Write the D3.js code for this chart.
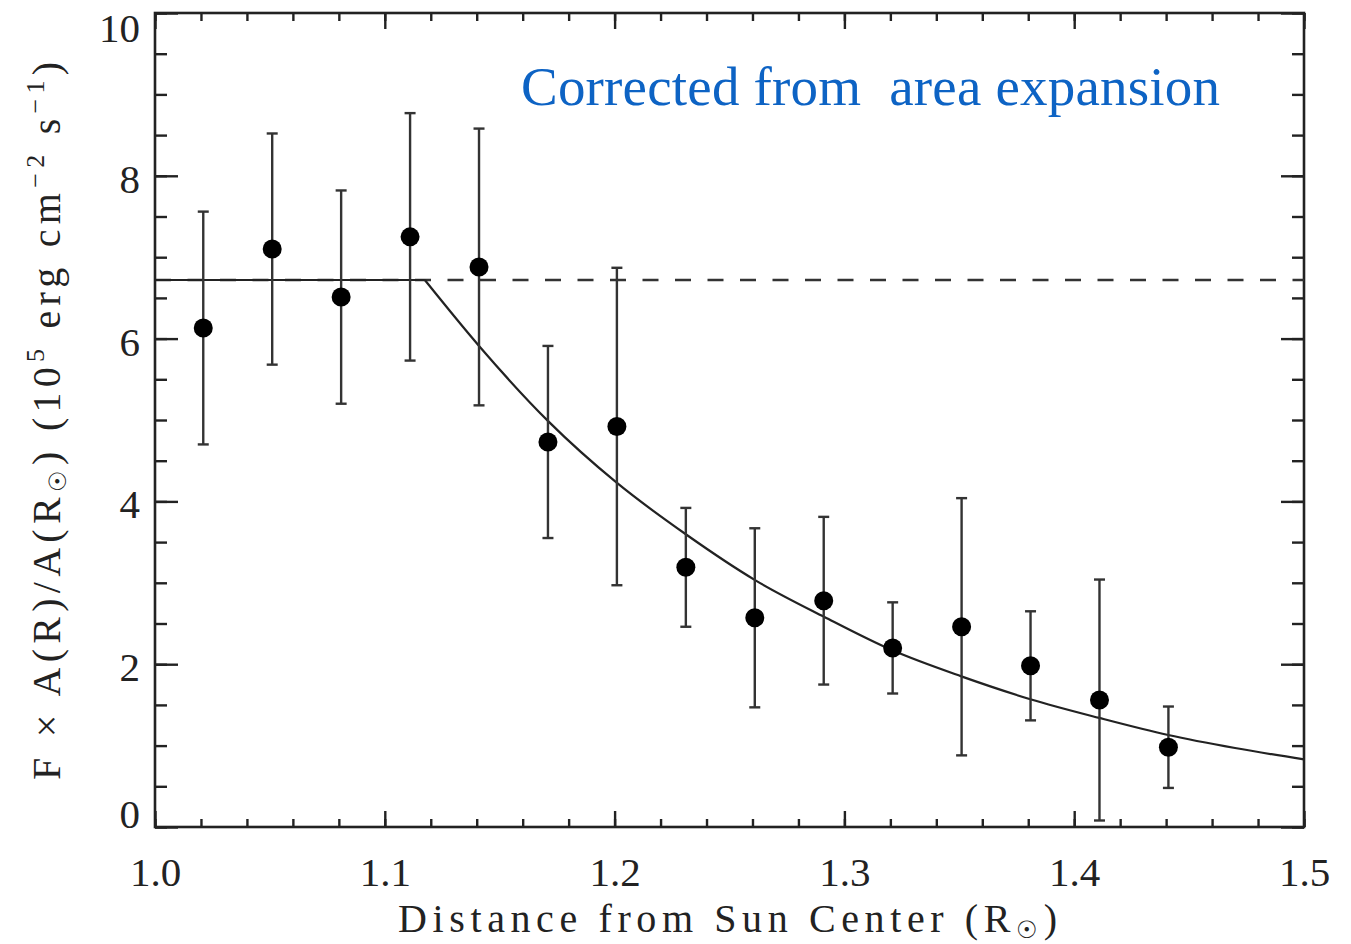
<!DOCTYPE html>
<html>
<head>
<meta charset="utf-8">
<script src="https://cdn.jsdelivr.net/npm/d3@7"></script>
<style>
  body { margin: 0; background: #fff; }
  svg { display: block; background: #fff; }
  text { font-family: "Liberation Serif", "DejaVu Serif", serif; fill: #222; }
</style>
</head>
<body>
<svg id="chart" width="1351" height="944"></svg>
<script>
// measured points: distance (R_sun), F x A(R)/A(R_sun), symmetric error
const radius = [1.021, 1.051, 1.081, 1.111, 1.141, 1.171, 1.201, 1.231, 1.261, 1.291, 1.321, 1.351, 1.381, 1.411, 1.441];
const flux = [6.13, 7.10, 6.51, 7.25, 6.88, 4.73, 4.92, 3.19, 2.57, 2.78, 2.20, 2.46, 1.98, 1.56, 0.98];
const fluxErr = [1.43, 1.42, 1.31, 1.52, 1.70, 1.18, 1.95, 0.73, 1.10, 1.03, 0.56, 1.58, 0.67, 1.48, 0.50];

// model: flat plateau, then decay
const plateau = 6.72;
const plateauEnd = 1.1174;
const fitR = [1.1174, 1.1413, 1.1713, 1.2009, 1.2313, 1.2613, 1.2913, 1.3209, 1.3509, 1.3809, 1.4109, 1.4409, 1.47, 1.5];
const fitF = [6.72, 5.90, 4.98, 4.23, 3.59, 3.03, 2.58, 2.17, 1.85, 1.57, 1.34, 1.13, 0.97, 0.83];

const xTicks = [1.0, 1.1, 1.2, 1.3, 1.4, 1.5];
const yTicks = [0, 2, 4, 6, 8, 10];

const svg = d3.select("#chart");
const margin = { top: 13, right: 47, bottom: 117, left: 155 };
const width = 1351 - margin.left - margin.right,
  height = 944 - margin.top - margin.bottom;
const g = svg.append("g").attr("transform", `translate(${margin.left},${margin.top})`);

const x = d3.scaleLinear().domain([1.0, 1.5]).range([0, width]);
const y = d3.scaleLinear().domain([0, 10]).range([height, 0]);

const ink = "#222";

function styleAxis(sel) {
  sel.select(".domain").remove();
  sel.selectAll(".tick line").attr("stroke", ink).attr("stroke-width", 2.4);
  sel.selectAll(".tick text").attr("fill", ink).attr("font-size", 41)
    .attr("font-family", '"Liberation Serif", "DejaVu Serif", serif');
}

// minor ticks
g.append("g").attr("transform", `translate(0,${height})`)
  .call(d3.axisBottom(x).ticks(25).tickSize(-8).tickFormat("")).call(styleAxis);
g.append("g")
  .call(d3.axisTop(x).ticks(25).tickSize(-8).tickFormat("")).call(styleAxis);
g.append("g")
  .call(d3.axisLeft(y).ticks(20).tickSize(-12).tickFormat("")).call(styleAxis);
g.append("g").attr("transform", `translate(${width},0)`)
  .call(d3.axisRight(y).ticks(20).tickSize(-12).tickFormat("")).call(styleAxis);

// major ticks
g.append("g").attr("transform", `translate(0,${height})`)
  .call(d3.axisBottom(x).tickValues(xTicks).tickSize(-16).tickPadding(30).tickFormat(d3.format(".1f")))
  .call(styleAxis);
g.append("g")
  .call(d3.axisTop(x).tickValues(xTicks).tickSize(-16).tickFormat("")).call(styleAxis);
const yAxisG = g.append("g")
  .call(d3.axisLeft(y).tickValues(yTicks).tickSize(-23).tickPadding(15).tickFormat(d3.format("d")))
  .call(styleAxis);
yAxisG.selectAll(".tick text").attr("dy", (d) => (d === 0 ? "0.02em" : d === 10 ? "0.7em" : "0.4em"));
g.append("g").attr("transform", `translate(${width},0)`)
  .call(d3.axisRight(y).tickValues(yTicks).tickSize(-23).tickFormat("")).call(styleAxis);

// frame
g.append("rect").attr("width", width).attr("height", height)
  .attr("fill", "none").attr("stroke", ink).attr("stroke-width", 2.6);

// dashed plateau level
g.append("line")
  .attr("x1", x(1.0)).attr("x2", x(1.5))
  .attr("y1", y(plateau)).attr("y2", y(plateau))
  .attr("stroke", "#333").attr("stroke-width", 2.4)
  .attr("stroke-dasharray", "16,16.5");

// solid model
g.append("line")
  .attr("x1", x(1.0)).attr("x2", x(plateauEnd))
  .attr("y1", y(plateau)).attr("y2", y(plateau))
  .attr("stroke", ink).attr("stroke-width", 2.2);
const fitLine = d3.line().x((d) => x(d[0])).y((d) => y(d[1])).curve(d3.curveMonotoneX);
g.append("path")
  .datum(fitR.map((r, i) => [r, fitF[i]]))
  .attr("d", fitLine)
  .attr("fill", "none").attr("stroke", ink).attr("stroke-width", 2.2);

// error bars
const pts = radius.map((r, i) => ({ r, f: flux[i], e: fluxErr[i] }));
const eb = g.append("g").attr("stroke", "#333").attr("stroke-width", 2.4);
eb.selectAll("line.bar").data(pts).join("line").attr("class", "bar")
  .attr("x1", (d) => x(d.r)).attr("x2", (d) => x(d.r))
  .attr("y1", (d) => y(d.f - d.e)).attr("y2", (d) => y(d.f + d.e));
eb.selectAll("line.capTop").data(pts).join("line").attr("class", "capTop")
  .attr("x1", (d) => x(d.r) - 5.5).attr("x2", (d) => x(d.r) + 5.5)
  .attr("y1", (d) => y(d.f + d.e)).attr("y2", (d) => y(d.f + d.e));
eb.selectAll("line.capBot").data(pts).join("line").attr("class", "capBot")
  .attr("x1", (d) => x(d.r) - 5.5).attr("x2", (d) => x(d.r) + 5.5)
  .attr("y1", (d) => y(d.f - d.e)).attr("y2", (d) => y(d.f - d.e));

g.selectAll("circle.pt").data(pts).join("circle").attr("class", "pt")
  .attr("cx", (d) => x(d.r)).attr("cy", (d) => y(d.f))
  .attr("r", 9.5).attr("fill", "#000");

// x title
const xt = svg.append("text")
  .attr("x", 398).attr("y", 932)
  .attr("font-size", 40)
  .attr("textLength", 659).attr("lengthAdjust", "spacing");
xt.append("tspan").text("Distance from Sun Center (R");
xt.append("tspan").attr("font-size", 24).attr("dy", 6).text("\u2609");
xt.append("tspan").attr("dy", -6).text(")");

// y title
const yt = svg.append("text")
  .attr("transform", "translate(60,780) rotate(-90)")
  .attr("x", 0).attr("y", 0)
  .attr("font-size", 40)
  .attr("textLength", 718).attr("lengthAdjust", "spacing");
yt.append("tspan").text("F \u00d7 A(R)/A(R");
yt.append("tspan").attr("font-size", 24).attr("dy", 6).text("\u2609");
yt.append("tspan").attr("dy", -6).text(") (10");
yt.append("tspan").attr("font-size", 26).attr("dy", -16).text("5");
yt.append("tspan").attr("dy", 16).text(" erg cm");
yt.append("tspan").attr("font-size", 26).attr("dy", -16).text("\u22122");
yt.append("tspan").attr("dy", 16).text(" s");
yt.append("tspan").attr("font-size", 26).attr("dy", -16).text("\u22121");
yt.append("tspan").attr("dy", 16).text(")");

// annotation
svg.append("text")
  .attr("x", 521).attr("y", 105)
  .attr("font-size", 55)
  .attr("textLength", 699).attr("lengthAdjust", "spacing")
  .style("fill", "#0d63c4")
  .attr("xml:space", "preserve")
  .text("Corrected from  area expansion");
</script>
</body>
</html>
